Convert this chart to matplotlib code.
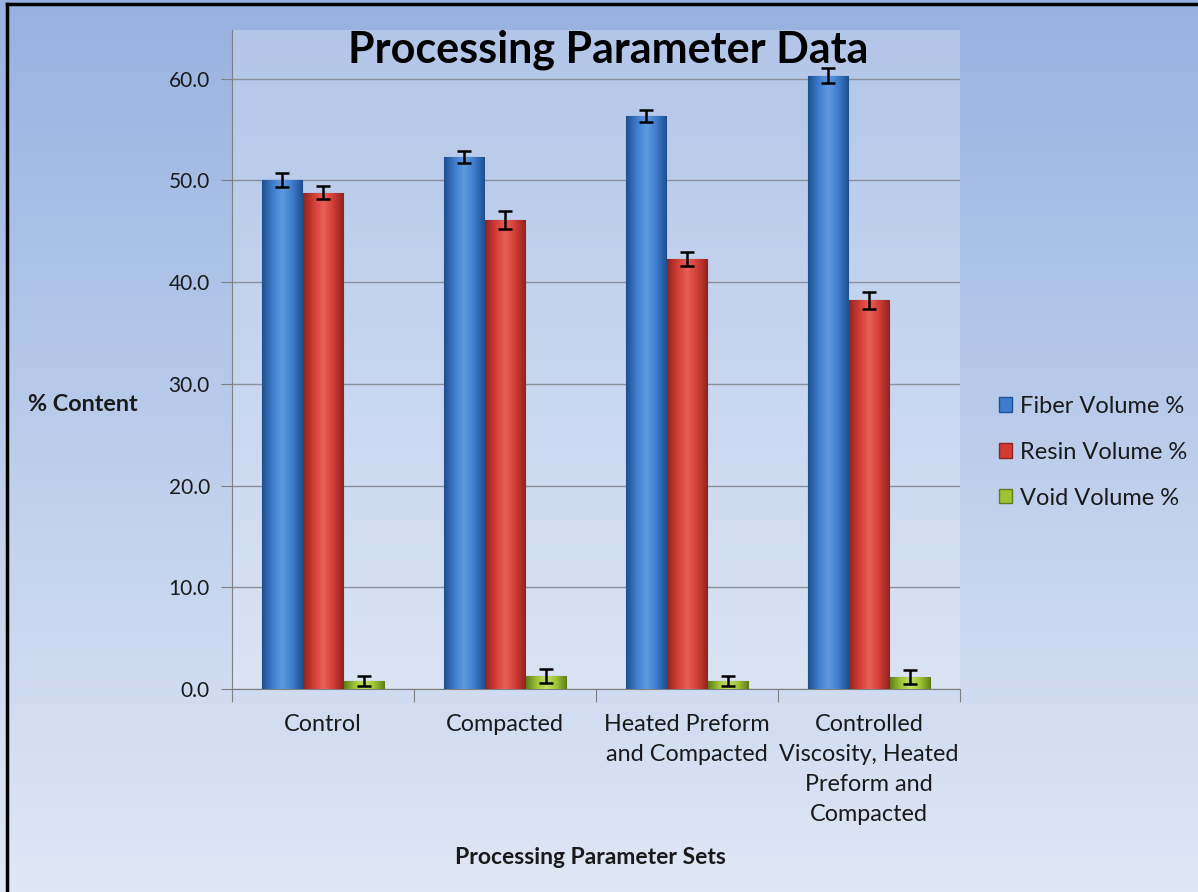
import numpy as np
import matplotlib.pyplot as plt
from matplotlib.colors import LinearSegmentedColormap
from matplotlib.lines import Line2D

plt.rcParams['font.family'] = ['Lato', 'DejaVu Sans']

categories = ['Control', 'Compacted', 'Heated Preform\nand Compacted',
              'Controlled\nViscosity, Heated\nPreform and\nCompacted']
series = ['Fiber Volume %', 'Resin Volume %', 'Void Volume %']
fiber = [50.0, 52.3, 56.3, 60.3]
resin = [48.8, 46.1, 42.3, 38.2]
void = [0.8, 1.3, 0.8, 1.2]
fiber_err = [0.7, 0.6, 0.6, 0.7]
resin_err = [0.6, 0.9, 0.7, 0.8]
void_err = [0.5, 0.7, 0.5, 0.7]

# dark edge, mid, light highlight for each series
shades = [('#1f4f8f', '#3d7ccc', '#5f9ae0'),
          ('#8e2420', '#d13c35', '#e8605a'),
          ('#5f7d1c', '#9cc435', '#c2e060')]

fig = plt.figure(figsize=(11.98, 8.92), dpi=100)

# page background: vertical blue gradient with a black rule on the left and top
bg = fig.add_axes([0, 0, 1, 1], zorder=-10)
grad = np.linspace(0, 1, 256).reshape(-1, 1)
bg_cmap = LinearSegmentedColormap.from_list('bg', ['#97b2e1', '#bccdec', '#e0e7f4'])
bg.imshow(grad, aspect='auto', cmap=bg_cmap, extent=[0, 1, 0, 1])
bg.axis('off')
bg.add_line(Line2D([0.006, 0.006], [0, 0.995], color='black', lw=2.5, transform=bg.transAxes))
bg.add_line(Line2D([0.006, 1.0], [0.995, 0.995], color='black', lw=2.5, transform=bg.transAxes))
bg.set_xlim(0, 1)
bg.set_ylim(0, 1)

ax = fig.add_axes([0.1937, 0.2276, 0.6077, 0.739])
ax.set_facecolor((1, 1, 1, 0.25))

x = np.arange(len(categories))
width = 0.22
offsets = [-0.225, 0.0, 0.225]
data = [fiber, resin, void]
errs = [fiber_err, resin_err, void_err]

for vals, err, off, (dark, mid, light), name in zip(data, errs, offsets, shades, series):
    bars = ax.bar(x + off, vals, width, color=mid, edgecolor=dark, linewidth=0.8,
                  label=name, zorder=3)
    cmap = LinearSegmentedColormap.from_list(name, [dark, mid, light, mid, dark])
    for b in bars:
        x0, w, h = b.get_x(), b.get_width(), b.get_height()
        img = ax.imshow(np.linspace(0, 1, 64).reshape(1, -1), cmap=cmap, aspect='auto',
                        extent=[x0, x0 + w, 0, h], zorder=3.5)
        img.set_clip_path(b)
    ax.errorbar(x + off, vals, yerr=err, fmt='none', ecolor='black', elinewidth=1.8,
                capsize=5, capthick=1.8, zorder=5)

ax.set_xlim(-0.5, 3.5)
ax.set_ylim(0, 64.8)
ax.set_yticks(np.arange(0, 61, 10))
ax.set_yticklabels([f'{v:.1f}' for v in np.arange(0, 61, 10)])
ax.yaxis.grid(True, color='#8a8f99', lw=1.0, zorder=0)
ax.set_axisbelow(True)

ax.set_xticks(np.arange(-0.5, 4, 1))
ax.set_xticklabels([])
ax.set_xticks(x, minor=True)
ax.set_xticklabels(categories, minor=True, linespacing=1.53, va='top')
ax.tick_params(axis='x', which='major', length=9, color='#7f7f7f', direction='out')
ax.tick_params(axis='x', which='minor', length=0, pad=18, labelsize=16.8, labelcolor='#1a1a1a')
ax.tick_params(axis='y', length=8, color='#7f7f7f', labelsize=15, labelcolor='#1a1a1a', pad=8)

for side in ['top', 'right']:
    ax.spines[side].set_visible(False)
ax.spines['left'].set_color('#7f7f7f')
ax.spines['bottom'].set_color('#7f7f7f')

fig.text(0.508, 0.944, 'Processing Parameter Data', ha='center', va='center',
         fontsize=31, fontweight='bold', color='black')
fig.text(0.023, 0.546, '% Content', ha='left', va='center', fontsize=16.8,
         fontweight='bold', color='#1a1a1a')
fig.text(0.493, 0.039, 'Processing Parameter Sets', ha='center', va='center',
         fontsize=16.5, fontweight='bold', color='#1a1a1a')

handles = [plt.Rectangle((0, 0), 1, 1, facecolor=s[1], edgecolor=s[0]) for s in shades]
fig.legend(handles, series, loc='center left', bbox_to_anchor=(0.834, 0.493),
           frameon=False, fontsize=17, handlelength=0.55, handleheight=0.55,
           handletextpad=0.35, labelspacing=1.05, borderpad=0, borderaxespad=0,
           labelcolor='#1a1a1a')

fig.savefig('out.png', dpi=100)
